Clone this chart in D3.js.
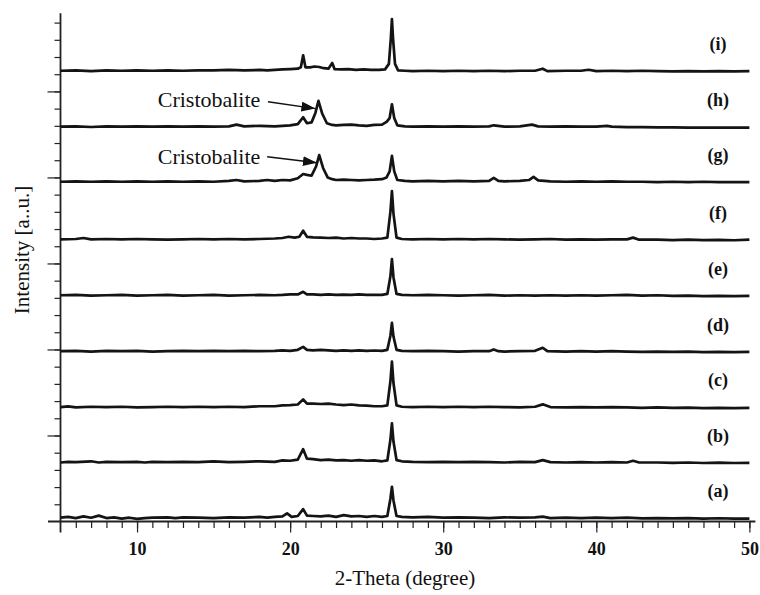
<!DOCTYPE html>
<html>
<head>
<meta charset="utf-8">
<script src="https://cdn.jsdelivr.net/npm/d3@7"></script>
<style>
  body { margin: 0; background: #fff; }
  svg { display: block; }
  text { font-family: "Liberation Serif", "Times New Roman", serif; fill: #111; }
</style>
</head>
<body>
<script>
// patterns a..i, [2theta, intensity] pairs (intensity in tick units)
let labels = ["(a)", "(b)", "(c)", "(d)", "(e)", "(f)", "(g)", "(h)", "(i)"]
let offsets = [0.12, 3.35, 6.55, 9.8, 13.05, 16.3, 19.65, 22.85, 26.1]

let patA = [[5,0.1],[5.5,0.15],[6,0.08],[6.5,0.18],[7,0.1],[7.5,0.22],[8,0.08],[8.5,0.12],[9,0.05],[9.5,0.1],[10,0.03],[10.5,0.08],[11,0.1],[12,0.12],[12.5,0.08],[13,0.12],[14,0.1],[15,0.08],[16,0.12],[17,0.1],[18,0.15],[18.5,0.1],[19,0.15],[19.5,0.18],[19.8,0.35],[20.1,0.15],[20.5,0.2],[20.85,0.6],[21.1,0.22],[21.5,0.2],[22,0.18],[22.5,0.22],[23,0.15],[23.5,0.25],[24,0.18],[24.5,0.2],[25,0.15],[25.5,0.2],[26,0.15],[26.35,0.2],[26.55,1.2],[26.65,1.9],[26.75,1.1],[26.95,0.2],[27.3,0.15],[28,0.12],[29,0.15],[30,0.1],[31,0.12],[32,0.1],[33,0.08],[34,0.12],[35,0.1],[36,0.12],[36.5,0.16],[37,0.08],[38,0.1],[39,0.08],[40,0.1],[41,0.08],[42,0.1],[43,0.06],[44,0.08],[45,0.06],[46,0.08],[47,0.05],[48,0.07],[49,0.05],[50,0.05]]
let patB = [[5,0.08],[5.5,0.12],[6,0.1],[7,0.15],[7.5,0.08],[8,0.12],[9,0.1],[10,0.12],[10.5,0.08],[11,0.12],[12,0.1],[13,0.12],[14,0.1],[15,0.14],[16,0.1],[17,0.12],[18,0.15],[19,0.12],[19.5,0.2],[20,0.18],[20.5,0.25],[20.85,0.85],[21.1,0.3],[21.5,0.28],[22,0.22],[22.5,0.25],[23,0.2],[23.5,0.22],[24,0.18],[24.5,0.22],[25,0.18],[25.5,0.2],[26,0.15],[26.35,0.2],[26.55,1.4],[26.65,2.35],[26.75,1.3],[26.95,0.22],[27.3,0.15],[28,0.12],[29,0.1],[30,0.12],[31,0.1],[32,0.12],[33,0.1],[34,0.08],[35,0.12],[36,0.1],[36.5,0.22],[37,0.1],[38,0.08],[39,0.1],[40,0.08],[41,0.1],[42,0.08],[42.4,0.18],[42.8,0.08],[44,0.08],[45,0.06],[46,0.08],[47,0.05],[48,0.07],[49,0.05],[50,0.06]]
let patC = [[5,0.1],[5.5,0.14],[6,0.08],[7,0.12],[8,0.1],[9,0.12],[10,0.08],[11,0.1],[12,0.12],[13,0.1],[14,0.12],[15,0.1],[16,0.12],[17,0.1],[18,0.15],[19,0.15],[19.5,0.2],[20,0.22],[20.5,0.25],[20.85,0.55],[21.1,0.3],[21.5,0.3],[22,0.28],[22.5,0.3],[23,0.25],[23.5,0.22],[24,0.25],[24.5,0.2],[25,0.18],[25.5,0.15],[26,0.15],[26.35,0.2],[26.55,1.6],[26.65,2.75],[26.75,1.5],[26.95,0.2],[27.3,0.12],[28,0.1],[29,0.12],[30,0.1],[31,0.12],[32,0.1],[33,0.12],[34,0.1],[35,0.08],[36,0.12],[36.5,0.26],[37,0.1],[38,0.08],[39,0.1],[40,0.08],[41,0.1],[42,0.08],[43,0.06],[44,0.08],[45,0.05],[46,0.07],[47,0.04],[48,0.05],[49,0.04],[50,0.05]]
let patD = [[5,0.1],[6,0.12],[7,0.08],[8,0.12],[9,0.1],[10,0.12],[11,0.08],[12,0.1],[13,0.12],[14,0.1],[15,0.12],[16,0.1],[17,0.12],[18,0.1],[19,0.12],[19.5,0.15],[20,0.12],[20.5,0.18],[20.85,0.35],[21.1,0.18],[21.5,0.15],[22,0.18],[22.5,0.15],[23,0.12],[23.5,0.15],[24,0.12],[24.5,0.15],[25,0.12],[25.5,0.14],[26,0.12],[26.35,0.18],[26.55,1.0],[26.65,1.75],[26.75,0.95],[26.95,0.18],[27.3,0.12],[28,0.1],[29,0.12],[30,0.1],[31,0.08],[32,0.1],[33,0.1],[33.3,0.2],[33.6,0.1],[34,0.08],[35,0.1],[36,0.12],[36.5,0.3],[36.8,0.1],[38,0.08],[39,0.1],[40,0.08],[41,0.1],[42,0.08],[43,0.06],[44,0.08],[45,0.06],[46,0.08],[47,0.05],[48,0.06],[49,0.05],[50,0.06]]
let patE = [[5,0.1],[6,0.12],[7,0.08],[8,0.1],[9,0.12],[10,0.08],[11,0.1],[12,0.12],[13,0.08],[14,0.1],[15,0.12],[16,0.08],[17,0.1],[18,0.12],[19,0.1],[19.5,0.12],[20,0.15],[20.5,0.15],[20.85,0.3],[21.1,0.15],[21.5,0.15],[22,0.12],[22.5,0.15],[23,0.12],[23.5,0.14],[24,0.12],[24.5,0.15],[25,0.12],[25.5,0.12],[26,0.12],[26.35,0.18],[26.55,1.2],[26.65,2.2],[26.75,1.15],[26.95,0.18],[27.3,0.12],[28,0.1],[29,0.12],[30,0.1],[31,0.08],[32,0.1],[33,0.12],[34,0.08],[35,0.1],[36,0.08],[37,0.1],[38,0.08],[39,0.1],[40,0.08],[41,0.1],[42,0.12],[43,0.08],[44,0.1],[45,0.06],[46,0.08],[47,0.05],[48,0.07],[49,0.05],[50,0.06]]
let patF = [[5,0.1],[6,0.12],[6.5,0.18],[7,0.1],[8,0.12],[9,0.1],[10,0.12],[11,0.1],[12,0.08],[13,0.1],[14,0.12],[15,0.1],[16,0.12],[17,0.1],[18,0.12],[19,0.15],[19.5,0.18],[19.9,0.25],[20.3,0.2],[20.6,0.25],[20.85,0.6],[21.1,0.25],[21.5,0.22],[22,0.2],[22.5,0.18],[23,0.2],[23.5,0.15],[24,0.18],[24.5,0.15],[25,0.15],[25.5,0.12],[26,0.15],[26.35,0.2],[26.55,1.7],[26.65,2.9],[26.75,1.6],[26.95,0.2],[27.3,0.12],[28,0.1],[29,0.12],[30,0.1],[31,0.12],[32,0.1],[33,0.12],[34,0.1],[35,0.08],[36,0.1],[37,0.12],[38,0.08],[39,0.1],[40,0.08],[41,0.1],[42,0.1],[42.4,0.2],[42.8,0.08],[44,0.08],[45,0.06],[46,0.08],[47,0.06],[48,0.07],[49,0.05],[50,0.08]]
let patG = [[5,0.1],[6,0.12],[7,0.1],[8,0.12],[9,0.1],[10,0.12],[11,0.1],[12,0.12],[13,0.1],[14,0.12],[15,0.1],[16,0.15],[16.5,0.2],[17,0.12],[18,0.15],[18.5,0.2],[19,0.15],[19.5,0.2],[20,0.18],[20.5,0.3],[20.85,0.55],[21.1,0.5],[21.4,0.45],[21.7,1.0],[21.9,1.65],[22.15,0.9],[22.45,0.35],[22.75,0.25],[23,0.2],[23.5,0.22],[24,0.2],[24.5,0.18],[25,0.2],[25.5,0.22],[26,0.25],[26.3,0.35],[26.5,0.7],[26.65,1.6],[26.8,0.7],[27,0.2],[27.5,0.15],[28,0.12],[29,0.15],[30,0.12],[31,0.15],[32,0.12],[33,0.15],[33.3,0.32],[33.6,0.15],[34,0.12],[35,0.15],[35.6,0.2],[35.9,0.38],[36.2,0.18],[37,0.12],[38,0.1],[39,0.12],[40,0.1],[41,0.12],[42,0.1],[43,0.1],[44,0.08],[45,0.1],[46,0.08],[47,0.1],[48,0.08],[49,0.08],[50,0.08]]
let patH = [[5,0.1],[6,0.12],[7,0.08],[8,0.12],[9,0.1],[10,0.12],[11,0.1],[12,0.12],[13,0.1],[14,0.12],[15,0.1],[16,0.12],[16.5,0.22],[17,0.12],[18,0.15],[19,0.12],[19.5,0.15],[20,0.18],[20.5,0.25],[20.85,0.65],[21.1,0.3],[21.4,0.35],[21.65,0.9],[21.85,1.6],[22.1,0.85],[22.4,0.3],[22.75,0.2],[23,0.18],[23.5,0.2],[24,0.22],[24.5,0.18],[25,0.15],[25.5,0.2],[26,0.22],[26.3,0.38],[26.5,0.6],[26.65,1.4],[26.8,0.6],[27,0.18],[27.5,0.12],[28,0.1],[29,0.12],[30,0.1],[31,0.12],[32,0.1],[33,0.12],[33.3,0.18],[34,0.1],[35,0.12],[35.8,0.22],[36.2,0.12],[37,0.1],[38,0.12],[39,0.1],[40,0.1],[40.7,0.15],[41,0.1],[42,0.08],[43,0.08],[44,0.06],[45,0.06],[46,0.05],[47,0.05],[48,0.05],[49,0.05],[50,0.05]]
let patI = [[5,0.1],[6,0.12],[7,0.08],[8,0.12],[9,0.1],[10,0.12],[11,0.1],[12,0.12],[13,0.1],[14,0.12],[15,0.12],[16,0.15],[17,0.12],[18,0.15],[18.5,0.12],[19,0.15],[19.5,0.18],[20,0.2],[20.5,0.22],[20.7,0.3],[20.85,1.0],[21.0,0.3],[21.3,0.3],[21.6,0.35],[21.9,0.32],[22.2,0.25],[22.5,0.22],[22.75,0.55],[22.9,0.2],[23.3,0.18],[23.8,0.2],[24.3,0.15],[24.8,0.18],[25.3,0.15],[25.8,0.15],[26.2,0.18],[26.45,0.5],[26.58,2.0],[26.65,3.1],[26.72,2.0],[26.85,0.5],[27.05,0.12],[27.5,0.1],[28,0.08],[29,0.1],[30,0.08],[31,0.1],[32,0.08],[33,0.1],[34,0.08],[35,0.1],[36,0.1],[36.5,0.22],[36.8,0.08],[38,0.1],[39,0.1],[39.5,0.16],[40,0.08],[41,0.1],[42,0.08],[43,0.1],[44,0.08],[45,0.06],[46,0.08],[47,0.06],[48,0.08],[49,0.06],[50,0.08]]
let patterns = [patA, patB, patC, patD, patE, patF, patG, patH, patI]

// cristobalite notes: text start, arrow tail, arrow tip (2theta, intensity)
let noteText = ["Cristobalite", "Cristobalite"]
let noteAt = [[11.35, 24.1], [11.35, 20.8]]
let arrowFrom = [[18.55, 24.4], [18.5, 21.2]]
let arrowTo = [[21.65, 24.0], [21.75, 20.85]]

let xMajor = [10, 20, 30, 40, 50]
let yMajor = [5, 10, 15, 20, 25]

let W = 760, H = 595
let svg = d3.select("body").append("svg").attr("width", W).attr("height", H)

let x = d3.scaleLinear().domain([5, 50]).range([60.5, 749.4])
let y = d3.scaleLinear().domain([0, 29.5]).range([521.5, 14])

// axis lines (extend a little past the origin like the original)
svg.append("line").attr("x1", x(5)).attr("x2", x(5)).attr("y1", y(29.55)).attr("y2", y(0) + 11)
    .attr("stroke", "#222").attr("stroke-width", 1.8)
svg.append("line").attr("x1", x(5) - 12.5).attr("x2", x(50) + 6).attr("y1", y(0)).attr("y2", y(0))
    .attr("stroke", "#222").attr("stroke-width", 1.8)

let xMinor = svg.append("g").attr("transform", `translate(0,${y(0)})`)
    .call(d3.axisBottom(x).tickValues(d3.range(6, 51)).tickSize(6.5).tickFormat(""))
let xMaj = svg.append("g").attr("transform", `translate(0,${y(0)})`)
    .call(d3.axisBottom(x).tickValues(xMajor).tickSize(11).tickPadding(10).tickFormat(d3.format("d")))
let yMinor = svg.append("g").attr("transform", `translate(${x(5)},0)`)
    .call(d3.axisLeft(y).tickValues(d3.range(1, 30)).tickSize(6).tickFormat(""))
let yMaj = svg.append("g").attr("transform", `translate(${x(5)},0)`)
    .call(d3.axisLeft(y).tickValues(yMajor).tickSize(13).tickFormat(""))

svg.selectAll(".domain").remove()
svg.selectAll(".tick line").attr("stroke", "#222").attr("stroke-width", 1.2)
xMaj.selectAll("text").attr("font-weight", "bold")
    .attr("font-size", 18).attr("fill", "#111")

let line = d3.line().x(d => x(d[0])).y(d => y(d[1]))

svg.selectAll("path.trace")
    .data(patterns)
    .enter()
    .append("path")
    .attr("class", "trace")
    .attr("d", (d, i) => line(d.map(p => [p[0], p[1] + offsets[i]])))
    .attr("fill", "none")
    .attr("stroke", "#141414")
    .attr("stroke-width", 2.7)
    .attr("stroke-linejoin", "round")

svg.selectAll("text.plabel")
    .data(labels)
    .enter()
    .append("text")
    .attr("class", "plabel")
    .attr("x", x(47.95))
    .attr("y", (d, i) => y(offsets[i] + 1.3))
    .attr("text-anchor", "middle")
    .attr("font-weight", "bold")
    .attr("font-size", 18)
    .text(d => d)

// cristobalite notes
svg.selectAll("text.note")
    .data(noteText)
    .enter()
    .append("text")
    .attr("class", "note")
    .attr("x", (d, i) => x(noteAt[i][0]))
    .attr("y", (d, i) => y(noteAt[i][1]))
    .attr("font-size", 22)
    .text(d => d)

svg.append("defs").append("marker")
    .attr("id", "head")
    .attr("viewBox", "0 0 14 10")
    .attr("refX", 14).attr("refY", 5)
    .attr("markerWidth", 14).attr("markerHeight", 10)
    .attr("markerUnits", "userSpaceOnUse")
    .attr("orient", "auto")
    .append("path").attr("d", "M0,0L14,5L0,10Z").attr("fill", "#111")

svg.selectAll("line.arrow")
    .data(arrowFrom)
    .enter()
    .append("line")
    .attr("class", "arrow")
    .attr("x1", d => x(d[0])).attr("y1", d => y(d[1]))
    .attr("x2", (d, i) => x(arrowTo[i][0])).attr("y2", (d, i) => y(arrowTo[i][1]))
    .attr("stroke", "#111").attr("stroke-width", 1.5)
    .attr("marker-end", "url(#head)")

// axis titles
svg.append("text")
    .attr("x", 405).attr("y", 585)
    .attr("text-anchor", "middle")
    .attr("font-size", 21)
    .text("2-Theta (degree)")

svg.append("text")
    .attr("transform", "translate(22,250) rotate(-90)")
    .attr("text-anchor", "middle")
    .attr("dy", "0.35em")
    .attr("font-size", 21)
    .text("Intensity [a..u.]")
</script>
</body>
</html>
